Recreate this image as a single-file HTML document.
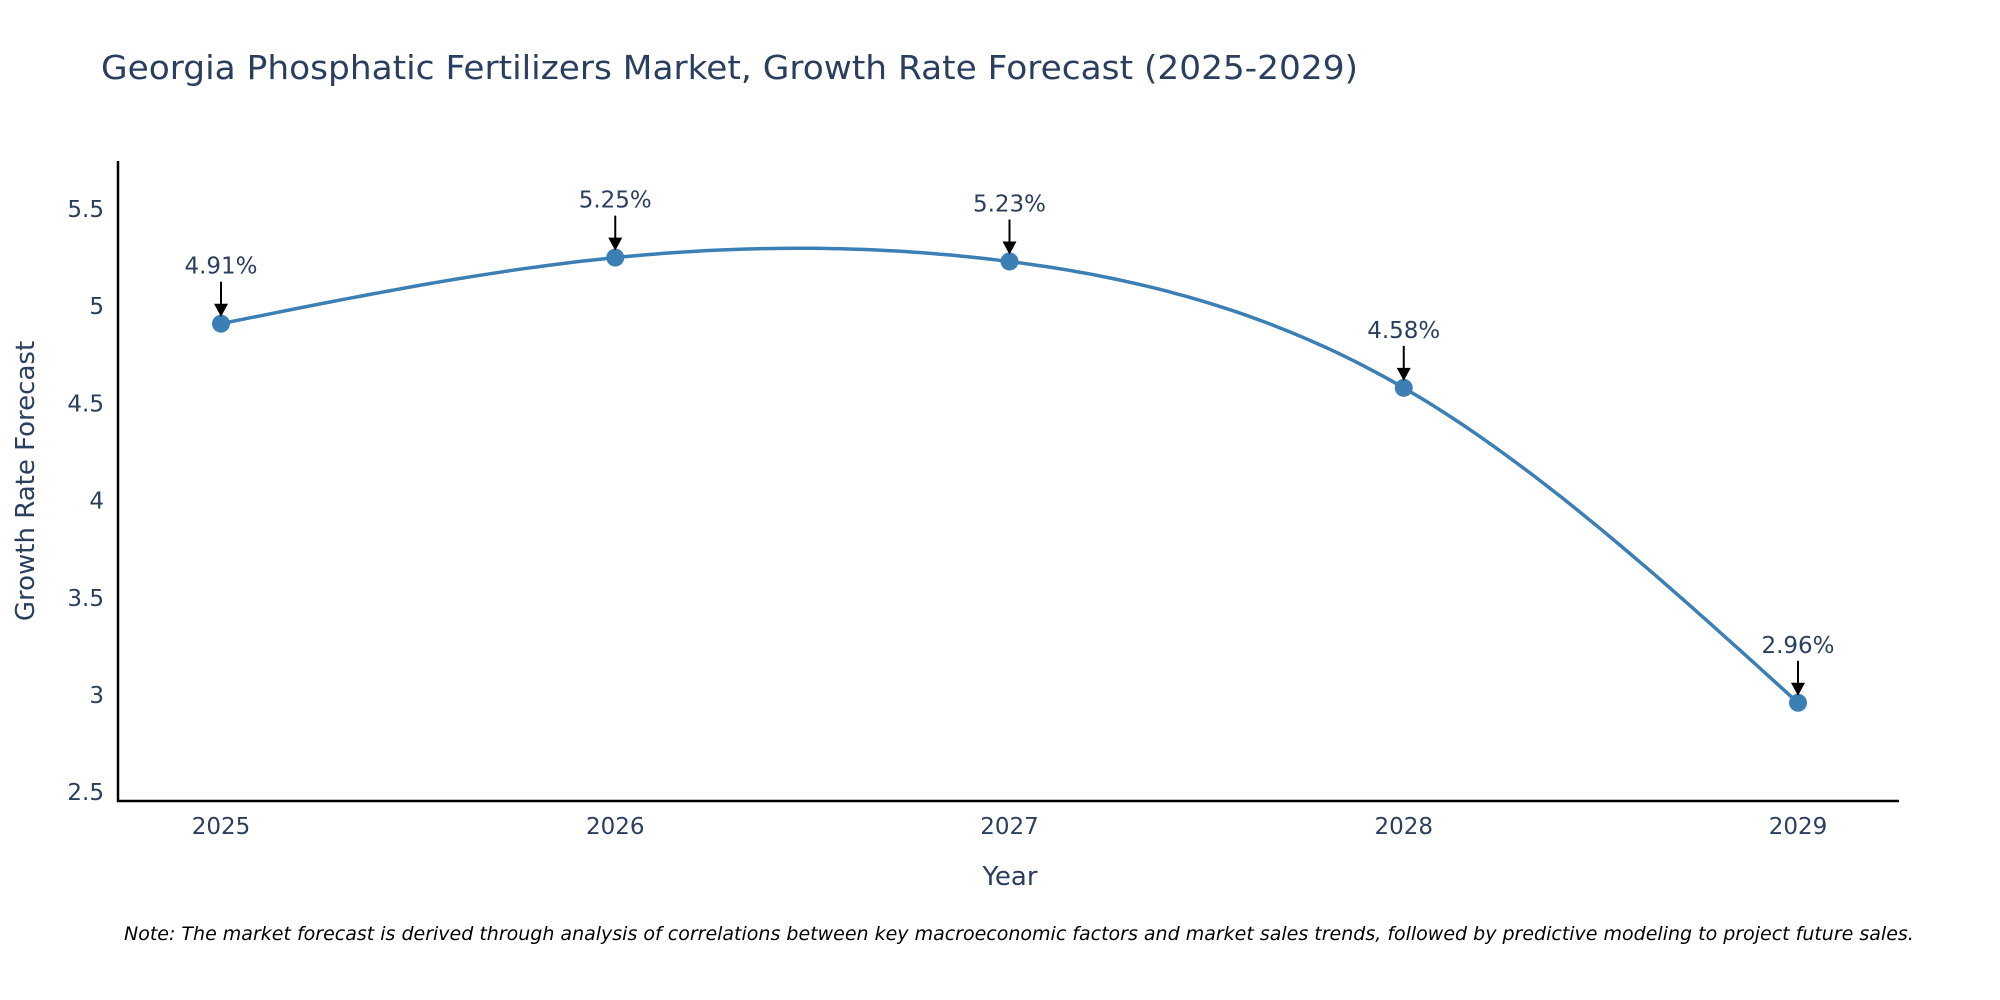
<!DOCTYPE html>
<html><head><meta charset="utf-8"><style>
body{margin:0;background:#fff;}
svg{display:block;font-family:"DejaVu Sans","Liberation Sans",sans-serif;}
</style></head><body>
<svg id="chart" width="2000" height="1000" viewBox="0 0 2000 1000">
<text x="101" y="79" font-size="33" fill="#2a3f5f" textLength="1257" lengthAdjust="spacingAndGlyphs">Georgia Phosphatic Fertilizers Market, Growth Rate Forecast (2025-2029)</text>
<g id="yticks"></g>
<g id="xticks"></g>
<line x1="118" y1="161" x2="118" y2="802" stroke="#000" stroke-width="2.5"/>
<line x1="117" y1="801" x2="1899" y2="801" stroke="#000" stroke-width="2.5"/>
<path id="line" fill="none" stroke="#3b7fb4" stroke-width="3.5"/>
<g id="marks"></g>
<text x="1010" y="885" font-size="26" fill="#2a3f5f" text-anchor="middle">Year</text>
<text transform="translate(34,481) rotate(-90)" font-size="26" fill="#2a3f5f" text-anchor="middle">Growth Rate Forecast</text>
<text x="124" y="940" font-size="19" font-style="italic" fill="#000">Note: The market forecast is derived through analysis of correlations between key macroeconomic factors and market sales trends, followed by predictive modeling to project future sales.</text>
</svg>
<script>
const years=[2025,2026,2027,2028,2029];
const values=[4.91,5.25,5.23,4.58,2.96];
const labels=["4.91%","5.25%","5.23%","4.58%","2.96%"];
const yTicks=[2.5,3,3.5,4,4.5,5,5.5];
const NS="http://www.w3.org/2000/svg";
const xs=v=>221+(v-2025)*(1798-221)/4;
const ys=v=>695-(v-3)*194.4;
function mk(t,a,p){const e=document.createElementNS(NS,t);for(const k in a)e.setAttribute(k,a[k]);p.appendChild(e);return e;}
const yt=document.getElementById('yticks');
yTicks.forEach(v=>{const t=mk('text',{x:104,y:ys(v)+8,'font-size':23,fill:'#2a3f5f','text-anchor':'end'},yt);


t.textContent=String(v);});
const xt=document.getElementById('xticks');
years.forEach(v=>{const t=mk('text',{x:xs(v),y:834,'font-size':23,fill:'#2a3f5f','text-anchor':'middle'},xt);


t.textContent=String(v);});
// natural cubic spline
const n=years.length,h=[],al=[0],l=[1],mu=[0],z=[0],c=new Array(n).fill(0),b=[],dd=[];
for(let i=0;i<n-1;i++)h.push(years[i+1]-years[i]);
for(let i=1;i<n-1;i++)al.push(3/h[i]*(values[i+1]-values[i])-3/h[i-1]*(values[i]-values[i-1]));
for(let i=1;i<n-1;i++){l[i]=2*(years[i+1]-years[i-1])-h[i-1]*mu[i-1];mu[i]=h[i]/l[i];z[i]=(al[i]-h[i-1]*z[i-1])/l[i];}
for(let j=n-2;j>=0;j--){c[j]=(j>0?z[j]-mu[j]*c[j+1]:0);if(j==0)c[0]=0;b[j]=(values[j+1]-values[j])/h[j]-h[j]*(c[j+1]+2*c[j])/3;dd[j]=(c[j+1]-c[j])/(3*h[j]);}
let d='';
for(let i=0;i<n-1;i++)for(let s=0;s<=40;s++){const t=s/40*h[i];const v=values[i]+b[i]*t+c[i]*t*t+dd[i]*t*t*t;d+=(d?'L':'M')+xs(years[i]+t).toFixed(1)+','+ys(v).toFixed(1);}
document.getElementById('line').setAttribute('d',d);
const g=document.getElementById('marks');
years.forEach((y,i)=>{const px=xs(y),py=ys(values[i]);
const c=mk('circle',{cx:px,cy:py,r:9,fill:'#3b7fb4'},g);


const a=mk('line',{x1:px,y1:py-42,x2:px,y2:py-18,stroke:'#000','stroke-width':2},g);


const hd=mk('path',{d:`M${px-7},${py-20} L${px+7},${py-20} L${px},${py-7} z`,fill:'#000'},g);


const t=mk('text',{x:px,y:py-50,'font-size':23,fill:'#2a3f5f','text-anchor':'middle'},g);


t.textContent=labels[i];});
</script>
</body></html>
